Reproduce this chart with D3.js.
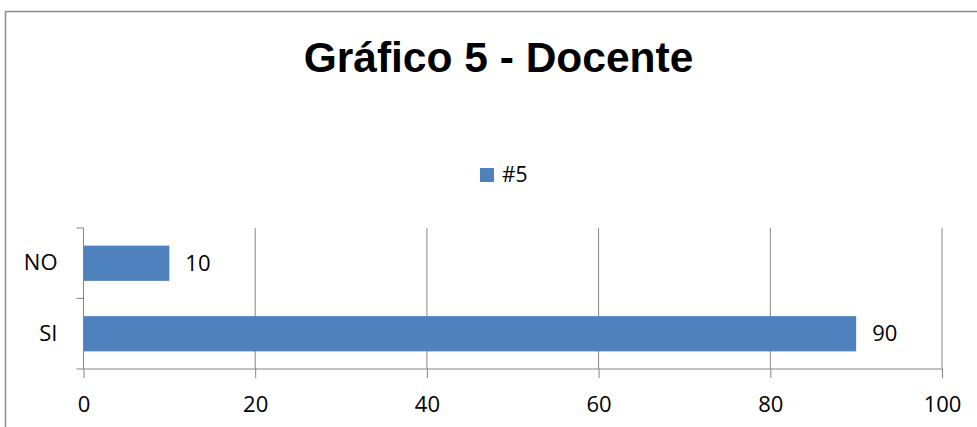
<!DOCTYPE html>
<html>
<head>
<meta charset="utf-8">
<script src="https://cdn.jsdelivr.net/npm/d3@7"></script>
<style>
	body { margin: 0; background: #fff; }
	svg text { font-family: "Open Sans", sans-serif; fill: #000; }
</style>
</head>
<body>
<div id="chart"></div>
<script>
// datos del gráfico
var categories = ["NO", "SI"]
var values = [10, 90]
var seriesName = "#5"
var xTicks = [0, 20, 40, 60, 80, 100]
var title = "Gráfico 5 - Docente"

var W = 977, H = 427
var barColor = "#4F81BD"
var gridColor = "#868686"
var fs = "22px"

var svg = d3.select("#chart").append("svg")
			.attr("width", W)
			.attr("height", H)

// marco exterior
svg.append("path")
	.attr("d", "M5.5," + H + "V11.5H" + W)
	.attr("fill", "none")
	.attr("stroke", "#8c8c8c")
	.attr("stroke-width", 1.5)

svg.append("text")
	.attr("x", 498.5)
	.attr("y", 72)
	.attr("text-anchor", "middle")
	.style("font-family", "'Liberation Sans', Arial, sans-serif")
	.style("font-weight", "bold")
	.style("font-size", "42.5px")
	.text(title)

// leyenda
var legend = svg.append("g").attr("transform", "translate(480,168)")
legend.append("rect")
	.attr("width", 14).attr("height", 14)
	.attr("fill", barColor)
legend.append("text")
	.attr("x", 22).attr("y", 7).attr("dy", "0.35em")
	.style("font-size", "21px")
	.text(seriesName)

var pLeft = 83.5, pRight = 942, pTop = 228, pBottom = 369

var x = d3.scaleLinear().domain([0, 100]).range([pLeft, pRight])
// NO arriba, SI abajo
var y = d3.scaleBand().domain(categories).range([pTop, pBottom]).paddingInner(0.5).paddingOuter(0.25)

// lineas verticales
svg.append("g").selectAll("line")
	.data(xTicks.slice(1))
	.enter().append("line")
	.attr("x1", function(d){ return x(d) }).attr("x2", function(d){ return x(d) })
	.attr("y1", pTop).attr("y2", pBottom)
	.attr("stroke", gridColor)
	.attr("stroke-width", 1)

// barras
svg.append("g").selectAll("rect")
	.data(values)
	.enter().append("rect")
	.attr("x", x(0))
	.attr("y", function(d, i){ return y(categories[i]) })
	.attr("width", function(d){ return x(d) - x(0) })
	.attr("height", y.bandwidth())
	.attr("fill", barColor)

// etiquetas de valor
svg.append("g").selectAll("text")
	.data(values)
	.enter().append("text")
	.attr("x", function(d){ return x(d) + 16 })
	.attr("y", function(d, i){ return y(categories[i]) + y.bandwidth() / 2 })
	.attr("dy", "0.35em")
	.style("font-size", fs)
	.text(function(d){ return d })

// eje x
var xAxis = svg.append("g")
	.attr("transform", "translate(0," + pBottom + ")")
	.call(d3.axisBottom(x).tickValues(xTicks).tickSize(9).tickPadding(18))
xAxis.select(".domain").attr("stroke", gridColor).attr("d", "M" + (pLeft - 7) + ",0H" + pRight)
xAxis.selectAll(".tick line").attr("stroke", gridColor)
xAxis.selectAll(".tick text").style("font-size", fs).attr("fill", "#000")

// eje y
var yAxis = svg.append("g")
	.attr("transform", "translate(" + pLeft + ",0)")
	.call(d3.axisLeft(y).tickSize(0).tickPadding(26))
yAxis.select(".domain").attr("stroke", gridColor).attr("d", "M0," + pTop + "V" + pBottom)
yAxis.selectAll(".tick text").style("font-size", fs).attr("fill", "#000")
// marcas entre categorias
svg.append("g").selectAll("line")
	.data([pTop, (pTop + pBottom) / 2])
	.enter().append("line")
	.attr("x1", pLeft - 7).attr("x2", pLeft)
	.attr("y1", function(d){ return d }).attr("y2", function(d){ return d })
	.attr("stroke", gridColor)
</script>
</body>
</html>
